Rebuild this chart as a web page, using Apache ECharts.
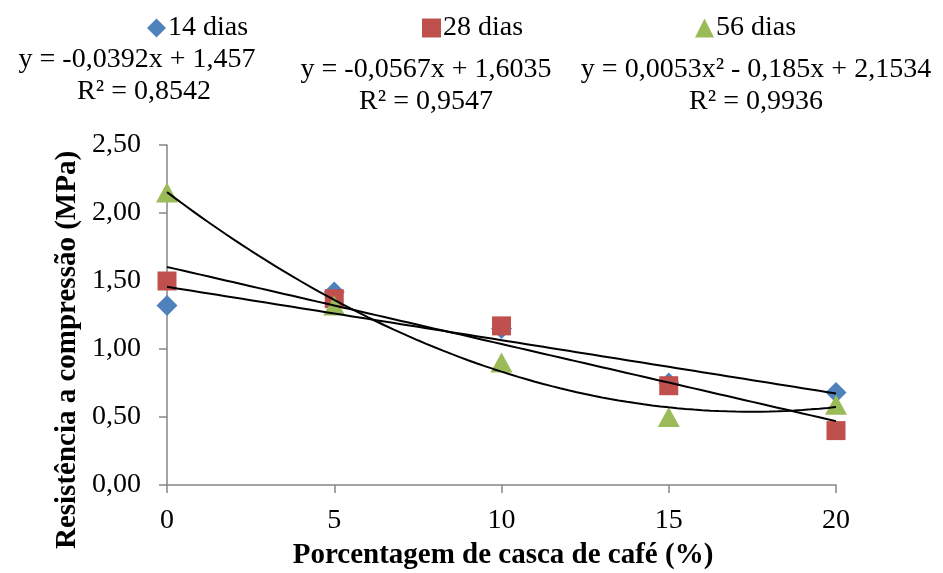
<!DOCTYPE html>
<html><head><meta charset="utf-8">
<script src="https://cdn.jsdelivr.net/npm/echarts@6/dist/echarts.min.js"></script>
<style>html,body{margin:0;padding:0;background:#fff}#c{width:943px;height:573px}</style>
</head><body><div id="c"></div>
<script>
const xValues = [0, 5, 10, 15, 20];
const seriesNames = ['14 dias', '28 dias', '56 dias'];
const dias14 = [1.32, 1.42, 1.15, 0.75, 0.68];
const dias28 = [1.50, 1.37, 1.17, 0.73, 0.40];
const dias56 = [2.15, 1.32, 0.90, 0.50, 0.59];
// trendline coefficients [c0, c1, c2] : y = c0 + c1*x + c2*x^2
const trend14 = [1.457, -0.0392, 0];
const trend28 = [1.6035, -0.0567, 0];
const trend56 = [2.1534, -0.185, 0.0053];
const eqTexts = ['y = -0,0392x + 1,457', 'y = -0,0567x + 1,6035', 'y = 0,0053x² - 0,185x + 2,1534'];
const r2Texts = ['R² = 0,8542', 'R² = 0,9547', 'R² = 0,9936'];
const xTitle = 'Porcentagem de casca de café (%)';
const yTitle = 'Resistência a compressão (MPa)';

const colors = ['#4F81BD', '#C0504D', '#9BBB59'];
const symbols = ['diamond', 'rect', 'triangle'];
const symbolSizes = [21, 19, [22, 20]];
const font = '"Liberation Serif", "Times New Roman", serif';

function pts(vals){ return xValues.map((x,i)=>[x, vals[i]]); }
function trend(c){
  const out = [];
  for (let x = 0; x <= 20.0001; x += 0.25) out.push([x, c[0] + c[1]*x + c[2]*x*x]);
  return out;
}
const data = [dias14, dias28, dias56];
const trends = [trend14, trend28, trend56];

const chart = echarts.init(document.getElementById('c'));
const series = [];
data.forEach((d,i)=>{
  series.push({name: seriesNames[i], type:'scatter', data: pts(d), symbol: symbols[i],
    symbolSize: symbolSizes[i], itemStyle:{color: colors[i], opacity:1}, z: 2+i});
});
trends.forEach((t)=>{
  series.push({type:'line', data: trend(t), showSymbol:false, symbol:'none', silent:true,
    lineStyle:{color:'#000', width:2}, z:6});
});
const legendLeft = [142, 417, 690];
function txt(t, x, y, bold, rot){
  return {type:'text', x:x, y:y, rotation: rot||0, z:10,
    style:{text:t, font:(bold?'bold 29px ':'28px ')+font, fill:'#000', align:'center', verticalAlign:'middle'}};
}
chart.setOption({
  animation:false,
  backgroundColor:'#fff',
  grid:{left:167, right:107, top:145, bottom:88},
  legend: seriesNames.map((n,i)=>({data:[n], left: legendLeft[i], top:9, itemWidth: 19, itemHeight: 19,
    icon: symbols[i], textStyle:{fontFamily: font, fontSize: 28, color:'#000', padding:[0,0,0,-3]}})),
  xAxis:{type:'value', min:0, max:20, interval:5,
    axisLine:{lineStyle:{color:'#868686', width:1.5}}, axisTick:{show:true, length:8, lineStyle:{color:'#868686', width:1.5}},
    axisLabel:{fontFamily:font, fontSize:28, color:'#000', margin:22}, splitLine:{show:false}},
  yAxis:{type:'value', min:0, max:2.5, interval:0.5,
    axisLine:{show:true, lineStyle:{color:'#868686', width:1.5}}, axisTick:{show:true, length:8, lineStyle:{color:'#868686', width:1.5}},
    axisLabel:{fontFamily:font, fontSize:28, color:'#000', margin:26, formatter:(v)=>v.toFixed(2).replace('.',',')},
    splitLine:{show:false}},
  graphic:[
    txt(eqTexts[0], 137, 60), txt(r2Texts[0], 144, 92),
    txt(eqTexts[1], 426, 70), txt(r2Texts[1], 426, 102),
    txt(eqTexts[2], 756, 70), txt(r2Texts[2], 756, 102),
    txt(xTitle, 503, 556, true),
    txt(yTitle, 68, 350, true, Math.PI/2)
  ],
  series: series
});
</script></body></html>
